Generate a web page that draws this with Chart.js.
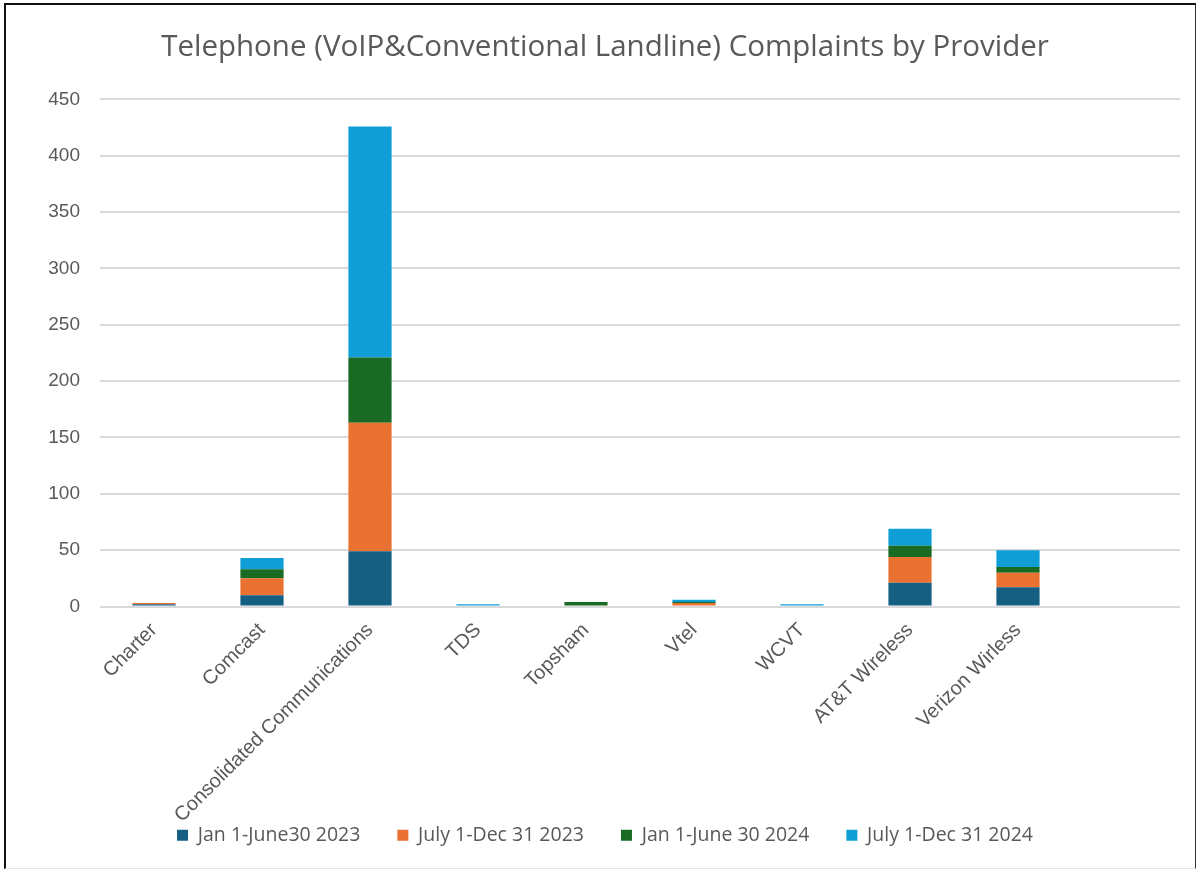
<!DOCTYPE html>
<html>
<head>
<meta charset="utf-8">
<script src="https://cdn.jsdelivr.net/npm/chart.js@4.4.1/dist/chart.umd.min.js"></script>
<style>
  html, body { margin: 0; padding: 0; background: #fff; }
  #chart { position: absolute; left: 0; top: 0; }
  #frame {
    position: absolute; left: 4px; top: 3px; width: 1192px; height: 866px; box-sizing: border-box;
    border-left: 2px solid #111; border-top: 2px solid #111; border-right: 1px solid #333;
    border-bottom: 1px solid #e6e6e6;
    pointer-events: none;
  }
</style>
</head>
<body>
<canvas id="chart" width="1199" height="871"></canvas>
<div id="frame"></div>
<script>
// Providers (last slot is empty in the original sheet)
const providers = ['Charter', 'Comcast', 'Consolidated Communications', 'TDS', 'Topsham',
  'Vtel', 'WCVT', 'AT&T Wireless', 'Verizon Wirless', ''];

const periodNames = ['Jan 1-June30 2023', 'July 1-Dec 31 2023', 'Jan 1-June 30 2024', 'July 1-Dec 31 2024'];

const h1_2023 = [2, 10, 49, 0, 0, 0, 0, 21, 17, null];
const h2_2023 = [1, 15, 114, 0, 0, 3, 0, 23, 13, null];
const h1_2024 = [0, 8, 58, 0, 4, 1, 0, 10, 5, null];
const h2_2024 = [0, 10, 205, 2, 0, 2, 2, 15, 15, null];

const colors = ['#156082', '#E97132', '#196B24', '#0F9ED5'];

const series = [h1_2023, h2_2023, h1_2024, h2_2024];

// long rotated category labels run down beside the legend, so don't clip them to the axis box
const unclipLabels = {
  id: 'unclipLabels',
  afterLayout(chart) {
    chart.scales.x.bottom = chart.height;
  }
};

const ctx = document.getElementById('chart').getContext('2d');
new Chart(ctx, {
  type: 'bar',
  data: {
    labels: providers,
    datasets: series.map((vals, i) => ({
      label: periodNames[i],
      data: vals,
      backgroundColor: colors[i],
      borderWidth: 0,
      barPercentage: 0.4,
      categoryPercentage: 1
    }))
  },
  plugins: [unclipLabels],
  options: {
    responsive: false,
    animation: false,
    // left padding is wide so the title centre sits where it does in the original
    layout: { padding: { left: 30, right: 19, bottom: 16 } },
    plugins: {
      title: {
        display: true,
        text: 'Telephone (VoIP&Conventional Landline) Complaints by Provider',
        color: '#595959',
        font: { family: 'Open Sans', size: 29.5, weight: 'normal' },
        padding: { top: 30, bottom: 34 }
      },
      legend: {
        position: 'bottom',
        labels: {
          color: '#595959',
          font: { family: 'Open Sans', size: 19.5 },
          boxWidth: 11,
          boxHeight: 11,
          padding: 37
        }
      },
      tooltip: { enabled: false }
    },
    scales: {
      x: {
        stacked: true,
        grid: { display: false },
        border: { display: false },
        ticks: {
          color: '#595959',
          font: { family: 'Liberation Sans', size: 20 },
          maxRotation: 45, minRotation: 45,
          autoSkip: false,
          padding: 4
        },
        afterFit: s => { s.height = 182; }
      },
      y: {
        stacked: true,
        min: 0, max: 450,
        ticks: {
          stepSize: 50,
          color: '#595959',
          font: { family: 'Liberation Sans', size: 19 },
          padding: 20
        },
        grid: { color: '#d9d9d9', lineWidth: 2, drawTicks: false },
        border: { display: false },
        afterFit: s => { s.width = 70; }
      }
    }
  }
});
</script>
</body>
</html>
